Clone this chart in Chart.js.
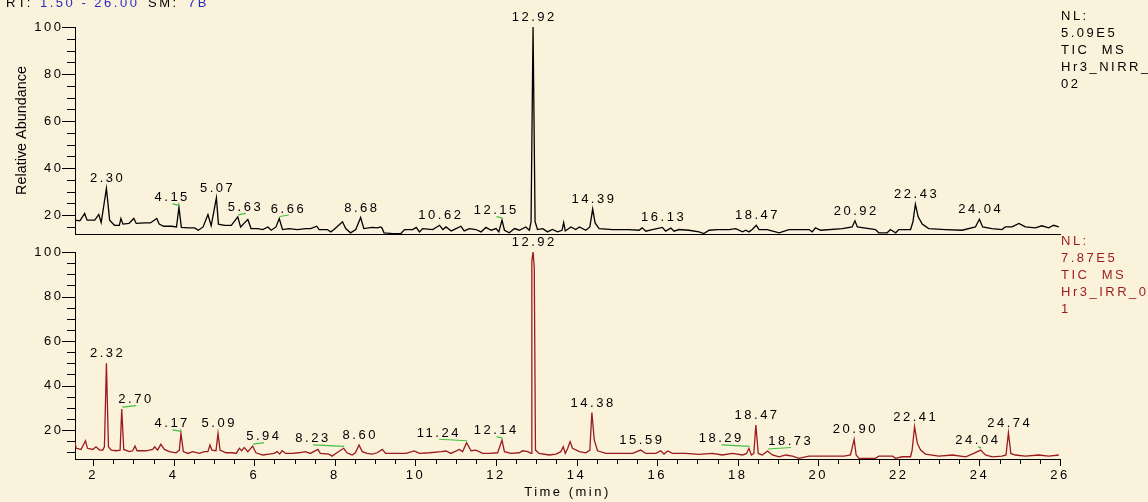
<!DOCTYPE html>
<html>
<head>
<meta charset="utf-8">
<style>
  html, body { margin: 0; padding: 0; background: #fbf2dc; overflow: hidden; }
  #wrap { position: relative; width: 1148px; height: 502px; }
  canvas { position: absolute; left: 0; top: 0; }
</style>
</head>
<body>
<div id="wrap">
  <canvas id="topChart" width="1148" height="502"></canvas>
  <canvas id="bottomChart" width="1148" height="502"></canvas>
</div>
<script src="https://cdn.jsdelivr.net/npm/chart.js"></script>
<script>
// retention time (min), relative abundance (%)
const topTrace = [
  [1.55,17.9],[1.67,17.6],[1.79,20.7],[1.85,17.9],[2.04,17.9],[2.14,20.3],[2.20,16.9],[2.33,31.4],
  [2.41,17.9],[2.53,15.7],[2.65,15.7],[2.69,18.6],[2.74,16.2],[2.89,16.5],[3.01,18.6],[3.07,16.5],
  [3.29,16.7],[3.42,16.7],[3.58,18.6],[3.64,16.2],[3.75,15.3],[3.95,15.3],[4.07,15.0],[4.13,23.3],
  [4.19,14.8],[4.36,14.6],[4.52,14.6],[4.61,13.6],[4.73,15.0],[4.85,20.3],[4.93,15.5],[5.06,27.4],
  [5.11,16.2],[5.26,15.7],[5.43,15.7],[5.59,19.3],[5.66,15.0],[5.84,18.2],[5.92,14.3],[6.09,14.3],
  [6.21,13.9],[6.34,15.0],[6.42,13.6],[6.54,15.0],[6.62,18.6],[6.70,13.9],[6.86,14.3],[7.07,13.9],
  [7.28,14.3],[7.40,14.3],[7.55,15.3],[7.61,13.9],[7.81,13.9],[7.90,12.9],[7.98,13.9],[8.19,17.2],
  [8.27,14.3],[8.39,12.5],[8.52,13.9],[8.64,19.0],[8.72,14.3],[8.93,14.8],[9.06,14.6],[9.14,15.0],
  [9.17,14.6],[9.22,12.5],[9.44,12.2],[9.64,12.2],[9.73,13.9],[9.93,13.9],[10.02,14.8],[10.10,12.9],
  [10.18,14.3],[10.43,13.9],[10.60,15.7],[10.68,13.9],[10.76,15.0],[10.89,13.3],[11.01,14.3],[11.13,15.3],
  [11.21,13.3],[11.34,14.3],[11.50,13.9],[11.63,12.9],[11.75,14.8],[11.88,13.6],[12.00,14.3],[12.07,12.9],
  [12.15,17.9],[12.21,13.6],[12.33,12.5],[12.46,14.3],[12.58,13.6],[12.74,15.0],[12.83,13.6],[12.87,17.2],
  [12.92,100],[12.97,17.2],[13.03,13.9],[13.16,14.3],[13.28,12.9],[13.40,13.9],[13.53,12.9],[13.64,13.6],
  [13.68,16.9],[13.72,13.3],[13.86,15.0],[13.98,13.9],[14.07,15.0],[14.23,13.6],[14.33,15.0],[14.40,22.6],
  [14.46,16.7],[14.56,14.3],[14.89,13.9],[15.30,13.9],[15.55,13.6],[15.63,14.6],[15.72,13.2],[15.88,13.9],
  [16.13,14.8],[16.21,13.2],[16.34,14.5],[16.42,13.2],[16.54,13.9],[16.79,13.6],[17.04,12.9],[17.16,12.2],
  [17.29,13.6],[17.50,13.9],[17.79,13.9],[17.95,14.3],[18.12,12.9],[18.20,13.6],[18.28,12.9],[18.36,13.9],
  [18.46,15.7],[18.53,13.9],[18.73,13.9],[19.03,12.5],[19.27,13.9],[19.77,13.9],[19.85,12.9],[19.93,14.6],
  [20.06,13.6],[20.60,14.3],[20.84,15.0],[20.91,17.6],[20.97,15.0],[21.42,13.9],[21.50,12.5],[21.71,12.5],
  [21.79,13.9],[21.92,12.5],[22.00,13.9],[22.29,13.9],[22.35,17.2],[22.41,24.7],[22.48,19.3],[22.58,16.2],
  [22.74,14.3],[23.16,13.9],[23.57,13.6],[23.90,15.0],[24.00,18.3],[24.08,15.0],[24.31,14.3],[24.56,13.9],
  [24.64,15.0],[24.81,15.0],[24.98,16.5],[25.14,15.0],[25.39,14.6],[25.55,15.5],[25.72,14.6],[25.84,15.7],
  [25.97,15.0]
];

const bottomTrace = [
  [1.55,14.5],[1.58,11.8],[1.70,11.3],[1.81,15.2],[1.86,11.8],[1.99,11.3],[2.07,12.5],[2.16,11.0],
  [2.24,11.0],[2.28,12.5],[2.33,50.0],[2.38,12.5],[2.45,11.0],[2.57,10.7],[2.67,11.0],[2.71,29.4],
  [2.76,11.3],[2.90,10.3],[2.98,10.7],[3.04,12.8],[3.09,10.7],[3.31,10.7],[3.48,11.3],[3.53,12.5],
  [3.60,11.0],[3.68,13.6],[3.77,11.3],[3.89,10.3],[4.06,9.8],[4.14,11.0],[4.18,18.5],[4.24,10.3],
  [4.35,9.5],[4.47,10.3],[4.64,9.5],[4.76,10.3],[4.85,10.3],[4.90,13.3],[4.95,11.0],[5.05,10.7],
  [5.10,18.5],[5.15,11.0],[5.30,9.8],[5.46,9.8],[5.55,9.5],[5.63,11.8],[5.69,10.7],[5.75,12.2],
  [5.84,10.3],[5.96,12.8],[6.04,9.8],[6.21,8.8],[6.37,9.2],[6.49,9.5],[6.57,10.3],[6.63,9.2],
  [6.69,10.7],[6.78,9.5],[6.94,9.5],[7.10,9.8],[7.27,10.3],[7.39,9.5],[7.58,11.3],[7.64,9.5],
  [7.85,9.2],[7.93,8.3],[8.05,9.8],[8.22,11.8],[8.30,9.8],[8.43,8.8],[8.51,9.8],[8.60,13.3],
  [8.68,10.3],[8.80,9.5],[8.93,9.2],[9.05,9.8],[9.18,11.3],[9.26,9.5],[9.52,9.5],[9.77,9.5],
  [9.97,10.6],[10.10,9.5],[10.35,9.8],[10.64,10.3],[10.76,10.6],[10.88,9.5],[11.09,11.3],[11.17,10.3],
  [11.27,14.3],[11.38,10.7],[11.50,11.0],[11.67,9.5],[11.83,9.5],[12.04,9.8],[12.15,15.5],[12.21,10.3],
  [12.37,9.5],[12.58,9.8],[12.66,10.7],[12.79,10.3],[12.87,9.5],[12.89,96.0],[12.92,100],[12.95,93.0],
  [12.98,11.0],[13.07,9.5],[13.32,8.8],[13.49,9.2],[13.61,10.3],[13.67,12.5],[13.72,9.5],[13.78,11.8],
  [13.84,14.8],[13.90,11.8],[14.07,10.3],[14.23,9.8],[14.33,11.0],[14.38,27.9],[14.44,15.5],[14.52,10.7],
  [14.73,9.5],[15.06,9.5],[15.39,9.5],[15.59,11.0],[15.72,9.5],[15.97,9.5],[16.09,10.7],[16.17,9.2],
  [16.26,10.6],[16.38,9.5],[16.71,9.5],[17.04,9.1],[17.37,9.5],[17.62,8.8],[17.87,9.5],[18.12,8.8],
  [18.22,9.5],[18.28,11.8],[18.34,8.8],[18.40,9.5],[18.45,22.2],[18.51,9.5],[18.61,8.8],[18.74,10.6],
  [18.86,8.8],[19.03,8.0],[19.19,8.8],[19.36,8.3],[19.52,7.3],[19.77,8.3],[20.02,8.3],[20.35,8.3],
  [20.64,8.3],[20.80,8.8],[20.89,15.8],[20.94,8.8],[21.01,7.3],[21.42,7.3],[21.50,8.3],[21.84,8.3],
  [21.92,7.3],[22.08,8.0],[22.29,8.0],[22.33,11.0],[22.39,21.5],[22.46,14.0],[22.54,11.0],[22.66,9.2],
  [22.99,8.3],[23.33,8.8],[23.66,8.0],[23.86,9.5],[24.03,11.0],[24.15,8.8],[24.32,8.0],[24.56,8.3],
  [24.66,8.8],[24.72,18.8],[24.78,9.5],[24.89,8.8],[25.14,8.3],[25.47,8.8],[25.72,8.3],[25.97,8.8]
];

const topPeakLabels = ['2.30','4.15','5.07','5.63','6.66','8.68','10.62','12.15','12.92','14.39','16.13','18.47','20.92','22.43','24.04'];
const bottomPeakLabels = ['2.32','2.70','4.17','5.09','5.94','8.23','8.60','11.24','12.14','12.92','14.38','15.59','18.29','18.47','18.73','20.90','22.41','24.04','24.74'];

const yMajorTicks = [20, 40, 60, 80, 100];
const timeMajorTicks = [2, 4, 6, 8, 10, 12, 14, 16, 18, 20, 22, 24, 26];

const topInfo = ['NL:', '5.09E5', 'TIC  MS', 'Hr3_NIRR_', '02'];
const bottomInfo = ['NL:', '7.87E5', 'TIC  MS', 'Hr3_IRR_0', '1'];

// label placement (px shift of label from its peak; shifted labels get a green leader)
const topLabelShift = {'4.15': -8, '5.63': 6.5, '6.66': 8, '12.15': -7};
const bottomLabelShift = {'2.70': 13, '4.17': -10, '5.94': 10, '8.23': -32, '11.24': -29,
  '12.14': -7, '18.29': -29, '18.73': 22, '24.04': -4};

const FONT = "'Liberation Sans', Arial, sans-serif";
const SPACING = '2.5px';
const RED = '#9a1b1b';

Chart.defaults.font.family = FONT;
Chart.defaults.color = '#000';

function apexIndex(trace, label) {
  const rt = parseFloat(label);
  let best = -1;
  trace.forEach((p, i) => {
    if (Math.abs(p[0] - rt) <= 0.08 && (best < 0 || p[1] > trace[best][1])) best = i;
  });
  return best;
}

function decorPlugin(cfg) {
  return {
    id: 'decor',
    beforeDraw(chart) { chart.ctx.letterSpacing = SPACING; },
    afterDraw(chart) {
      const ctx = chart.ctx, xs = chart.scales.x, ys = chart.scales.y, area = chart.chartArea;
      ctx.save();
      // tick marks
      ctx.strokeStyle = '#000';
      ctx.lineWidth = 1;
      ctx.beginPath();
      ys.ticks.forEach(tk => {
        const y = Math.round(ys.getPixelForValue(tk.value)) + 0.5;
        const len = yMajorTicks.includes(tk.value) ? 13 : 8;
        ctx.moveTo(area.left - len, y);
        ctx.lineTo(area.left, y);
      });
      if (cfg.xTicks) {
        xs.ticks.forEach(tk => {
          const x = Math.round(xs.getPixelForValue(tk.value)) + 0.5;
          const len = timeMajorTicks.includes(tk.value) ? 7 : 5;
          ctx.moveTo(x, area.bottom);
          ctx.lineTo(x, area.bottom + len);
        });
      }
      ctx.stroke();

      // peak labels
      ctx.font = '13px ' + FONT;
      ctx.textAlign = 'center';
      ctx.textBaseline = 'middle';
      cfg.labels.forEach(lb => {
        const i = apexIndex(cfg.trace, lb);
        if (i < 0) return;
        const px = xs.getPixelForValue(cfg.trace[i][0]);
        const py = ys.getPixelForValue(cfg.trace[i][1]);
        const dx = cfg.shift[lb] || 0;
        const lx = px + dx, ly = py - 9.5;
        if (dx) {
          ctx.strokeStyle = '#3fc23f';
          ctx.lineWidth = 1.2;
          ctx.beginPath();
          ctx.moveTo(lx + 1.5, ly + 6);
          ctx.lineTo(px + 0.5, py - 2);
          ctx.stroke();
        }
        ctx.fillStyle = '#000';
        ctx.fillText(lb, lx + 1.25, ly);
      });

      // NL / scan info at the right
      ctx.textAlign = 'left';
      ctx.fillStyle = cfg.infoColor;
      cfg.info.forEach((s, k) => ctx.fillText(s, 1061, cfg.infoTop + k * 17));

      if (cfg.header) {
        ctx.textBaseline = 'alphabetic';
        const parts = [['RT:', 6, '#000'], ['1.50 - 26.00', 40, '#2b2bc4'], ['SM:', 148, '#000'], ['7B', 188, '#2b2bc4']];
        parts.forEach(([s, x, c]) => { ctx.fillStyle = c; ctx.fillText(s, x, 6.5); });

        ctx.letterSpacing = '0px';
        ctx.fillStyle = '#000';
        ctx.font = '14.4px ' + FONT;
        ctx.textAlign = 'center';
        ctx.textBaseline = 'middle';
        ctx.translate(22, (area.top + area.bottom) / 2);
        ctx.rotate(-Math.PI / 2);
        ctx.fillText('Relative Abundance', 0, 0);
      }
      ctx.restore();
    }
  };
}

function yTicks(min) {
  return s => {
    const t = [];
    for (let v = 100; v >= min; v -= 5) t.unshift({value: v});
    s.ticks = t;
  };
}

function makeChart(id, o) {
  return new Chart(document.getElementById(id), {
    type: 'line',
    data: {
      datasets: [{
        data: o.trace.map(p => ({x: p[0], y: p[1]})),
        borderColor: o.color,
        borderWidth: 1.3,
        pointRadius: 0,
        tension: 0,
        fill: false
      }]
    },
    options: {
      responsive: false,
      animation: false,
      devicePixelRatio: 1,
      layout: {padding: {left: 0, right: 88, top: o.padTop, bottom: o.padBottom}},
      plugins: {legend: {display: false}, tooltip: {enabled: false}},
      scales: {
        x: {
          type: 'linear', min: 1.55, max: 26,
          grid: {display: false, drawTicks: false},
          border: {display: true, color: '#000', width: 1},
          afterBuildTicks: s => {
            const t = [];
            for (let v = 2; v <= 26; v += 0.5) t.push({value: v});
            s.ticks = t;
          },
          ticks: {
            display: o.xLabels, autoSkip: false, maxRotation: 0, minRotation: 0, padding: 8.7,
            font: {size: 13}, color: '#000',
            callback: v => timeMajorTicks.includes(v) ? String(v) : ''
          },
          title: {
            display: o.xLabels, text: 'Time (min)', color: '#000',
            font: {size: 13, lineHeight: 1}, padding: {top: 0, bottom: 3.5}
          },
          afterFit: s => { s.height = o.xHeight; }
        },
        y: {
          type: 'linear', min: o.yMin, max: 100,
          grid: {display: false, drawTicks: false},
          border: {display: true, color: '#000', width: 1},
          afterBuildTicks: yTicks(o.yMin),
          ticks: {
            autoSkip: false, padding: 11.5, font: {size: 13}, color: '#000',
            callback: v => yMajorTicks.includes(v) ? String(v) : ''
          },
          afterFit: s => { s.width = 75; }
        }
      }
    },
    plugins: [decorPlugin(o.decor)]
  });
}

makeChart('topChart', {
  trace: topTrace, color: '#000', yMin: 12, padTop: 27, padBottom: 268, xHeight: 0, xLabels: false,
  decor: {trace: topTrace, labels: topPeakLabels, shift: topLabelShift, info: topInfo,
          infoColor: '#000', infoTop: 16, header: true, xTicks: false}
});

makeChart('bottomChart', {
  trace: bottomTrace, color: RED, yMin: 7, padTop: 252, padBottom: 0, xHeight: 43, xLabels: true,
  decor: {trace: bottomTrace, labels: bottomPeakLabels, shift: bottomLabelShift, info: bottomInfo,
          infoColor: RED, infoTop: 241, header: false, xTicks: true}
});
</script>
</body>
</html>
